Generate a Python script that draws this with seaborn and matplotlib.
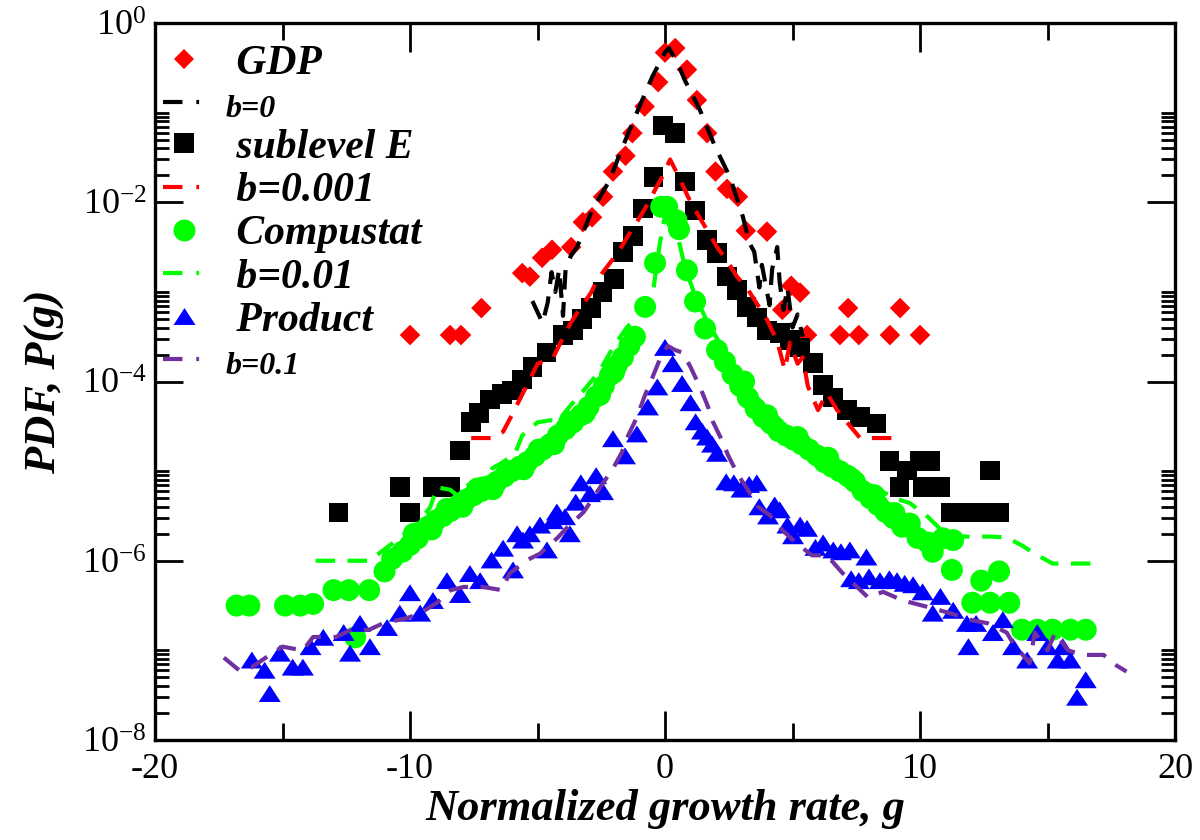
import math
import matplotlib
matplotlib.use("Agg")
import matplotlib.pyplot as plt
from matplotlib.lines import Line2D
from matplotlib.markers import MarkerStyle
from matplotlib.ticker import FixedLocator, NullFormatter, FuncFormatter
import seaborn as sns

# ---------------- data ----------------
# GDP growth-rate PDF
g_gdp = [-10.0, -8.43, -8.0, -7.2, -5.6, -5.3, -4.82, -4.43, -3.68, -3.22, -2.86, -2.43,
         -2.04, -1.55, -1.28, -0.8, -0.27, 0.0, 0.4, 0.86, 1.25, 1.65, 1.98, 2.43, 2.86,
         3.17, 4.0, 4.6, 4.95, 5.3, 5.57, 6.86, 7.18, 7.6, 8.82, 9.22, 10.0]
p_gdp = [3.3e-4, 3.3e-4, 3.3e-4, 6.6e-4, 1.62e-3, 1.48e-3, 2.4e-3, 2.95e-3, 3.16e-3, 6.0e-3,
         6.8e-3, 1.15e-2, 2.2e-2, 3.3e-2, 5.9e-2, 0.117, 0.219, 0.468, 0.525, 0.302, 0.138,
         5.9e-2, 2.2e-2, 1.41e-2, 1.15e-2, 4.8e-3, 4.7e-3, 6.3e-4, 1.17e-3, 9.8e-4, 3.3e-4,
         3.3e-4, 6.6e-4, 3.3e-4, 3.3e-4, 6.6e-4, 3.3e-4]

# model curve, b = 0
g_b0 = [-5.2, -4.8, -4.6, -4.45, -4.3, -4.15, -4.0, -3.9, -3.7, -3.45, -2.86, -2.16, -1.76,
        -1.06, -0.5, 0.0, 0.15, 0.5, 0.78, 1.37, 1.96, 2.55, 3.06, 3.3, 3.5, 3.7, 3.8, 4.1,
        4.2, 4.4, 4.5, 4.65, 4.8, 5.0, 5.2, 5.4]
p_b0 = [7.9e-4, 4.5e-4, 7.6e-4, 1.66e-3, 1.0e-3, 1.78e-3, 5.4e-4, 1.78e-3, 2.5e-3, 3.16e-3,
        8.1e-3, 1.78e-2, 3.55e-2, 0.107, 0.251, 0.468, 0.525, 0.355, 0.229, 0.107, 4.2e-2,
        1.9e-2, 6.8e-3, 3.55e-3, 2.8e-3, 1.12e-3, 2.0e-3, 7.1e-4, 1.78e-3, 3.16e-3, 1.26e-3,
        6.3e-4, 1.12e-3, 4.0e-4, 5.6e-4, 3.16e-4]

# sublevel E
g_sub = [-12.8, -10.4, -10.0, -9.1, -8.43, -8.04, -7.6, -7.3, -6.86, -6.4, -6.0, -5.6, -5.2,
         -4.65, -4.0, -3.6, -3.25, -2.9, -2.45, -2.0, -1.65, -1.25, -0.86, -0.45, -0.08,
         0.4, 0.78, 1.18, 1.65, 2.04, 2.43, 2.82, 3.2, 3.6, 4.0, 4.5, 4.9, 5.3, 5.8, 6.2,
         6.6, 7.14, 7.65, 8.3, 8.8, 9.2, 9.5, 10.0, 10.1, 10.4, 10.8, 11.2, 11.8, 12.35,
         12.75, 13.1]
p_sub = [3.47e-6, 6.6e-6, 3.47e-6, 6.6e-6, 6.6e-6, 1.7e-5, 3.55e-5, 4.47e-5, 6.3e-5, 7.2e-5,
         7.9e-5, 1.05e-4, 1.45e-4, 2.1e-4, 3.3e-4, 3.7e-4, 5.0e-4, 6.6e-4, 1.0e-3, 1.4e-3,
         2.8e-3, 4.2e-3, 8.5e-3, 1.9e-2, 7.2e-2,
         5.9e-2, 1.7e-2, 8.1e-3, 3.8e-3, 2.7e-3, 1.48e-3, 1.05e-3, 6.8e-4, 5.2e-4, 3.7e-4,
         3.5e-4, 2.9e-4, 2.4e-4, 1.6e-4, 9.1e-5, 6.6e-5, 4.8e-5, 4.0e-5, 3.4e-5, 1.3e-5,
         6.6e-6, 1.02e-5, 1.3e-5, 6.6e-6, 1.3e-5, 6.6e-6, 3.47e-6, 3.47e-6, 3.47e-6,
         1.02e-5, 3.47e-6]

# model curve, b = 0.001
g_b001 = [-7.6, -6.75, -6.35, -5.96, -5.7, -5.3, -5.0, -4.4, -4.1, -3.7, -3.45, -2.9, -2.67,
          -2.16, -1.84, -1.37, -1.06, -0.59, -0.39, -0.12, 0.2, 0.6, 0.9, 1.25, 1.65, 2.04,
          2.43, 2.82, 3.2, 3.6, 4.0, 4.4, 4.7, 4.9, 5.2, 5.4, 5.6, 6.0, 6.35, 6.75, 7.14,
          7.65, 9.1]
p_b001 = [2.34e-5, 2.34e-5, 2.75e-5, 4.47e-5, 6.3e-5, 1.05e-4, 1.58e-4, 1.82e-4, 2.7e-4,
          4.5e-4, 5.8e-4, 9.8e-4, 1.35e-3, 2.1e-3, 2.75e-3, 4.6e-3, 6.3e-3, 1.05e-2, 1.38e-2,
          1.9e-2, 3.0e-2, 1.78e-2, 1.15e-2, 7.6e-3, 4.9e-3, 3.16e-3, 2.24e-3, 1.48e-3,
          1.12e-3, 7.4e-4, 4.9e-4, 2.8e-4, 1.35e-4, 2.7e-4, 1.58e-4, 1.86e-4, 8.9e-5, 4.8e-5,
          7.4e-5, 4.8e-5, 3.5e-5, 2.34e-5, 2.34e-5]

# Compustat firms
g_comp = [-16.8, -16.3, -14.9, -14.3, -13.8, -13.0, -12.4, -12.15, -11.6, -11.0, -10.7,
          -10.3, -10.0, -9.85, -9.7, -9.3, -9.15, -9.0, -8.7, -8.55, -8.4, -8.1, -7.95, -7.8,
          -7.5, -7.35, -7.2, -6.9, -6.75, -6.6, -6.3, -6.15, -6.0, -5.7, -5.55, -5.4, -5.1,
          -4.95, -4.8, -4.5, -4.35, -4.2, -3.9, -3.75, -3.6, -3.3, -3.15, -3.0, -2.7, -2.55,
          -2.4, -2.16, -2.0, -1.9, -1.65, -1.4, -1.18, -0.78, -0.39, -0.15,
          0.08, 0.45, 0.55, 0.86, 1.18, 1.57, 2.04, 2.35, 2.65, 2.95, 3.1, 3.25, 3.55, 3.85,
          4.0, 4.15, 4.45, 4.75, 5.05, 5.2, 5.35, 5.65, 5.95, 6.25, 6.4, 6.55, 6.85, 7.15,
          7.3, 7.45, 7.75, 8.05, 8.2, 8.35, 8.65, 8.95, 9.0, 9.3, 9.6, 9.9, 10.3, 10.5, 10.9,
          11.3, 11.25, 12.05, 12.4, 12.75, 13.1, 13.5, 14.0, 14.6, 15.2, 15.9, 16.5]
p_comp = [3.16e-7, 3.16e-7, 3.16e-7, 3.16e-7, 3.3e-7, 4.7e-7, 4.7e-7, 1.4e-7, 4.7e-7, 7.6e-7,
          1.05e-6, 1.26e-6, 1.5e-6, 2.0e-6, 1.78e-6, 2.4e-6, 2.24e-6, 2.8e-6, 3.16e-6,
          3.8e-6, 3.6e-6, 4.2e-6, 4.0e-6, 4.8e-6, 5.4e-6, 6.3e-6, 6.0e-6, 6.8e-6, 6.3e-6,
          7.6e-6, 8.7e-6, 1.0e-5, 1.0e-5, 1.12e-5, 1.05e-5, 1.26e-5, 1.48e-5, 1.74e-5,
          1.74e-5, 2.0e-5, 2.0e-5, 2.5e-5, 2.95e-5, 3.55e-5, 3.5e-5, 4.2e-5, 4.4e-5, 5.2e-5,
          6.8e-5, 7.1e-5, 8.9e-5, 1.17e-4, 1.26e-4, 1.5e-4, 1.86e-4, 2.5e-4, 3.16e-4,
          6.8e-4, 2.1e-3, 8.9e-3,
          8.9e-3, 6.3e-3, 5.0e-3, 1.74e-3, 7.8e-4, 3.9e-4, 2.24e-4, 1.66e-4, 1.2e-4, 8.9e-5,
          1.0e-4, 6.6e-5, 5.0e-5, 4.0e-5, 4.2e-5, 3.4e-5, 2.8e-5, 2.5e-5, 2.24e-5, 2.4e-5,
          2.0e-5, 1.74e-5, 1.5e-5, 1.26e-5, 1.41e-5, 1.12e-5, 1.0e-5, 8.9e-6, 8.3e-6, 7.6e-6,
          6.0e-6, 5.0e-6, 5.4e-6, 4.2e-6, 3.5e-6, 3.0e-6, 3.4e-6, 2.4e-6, 2.6e-6, 1.8e-6,
          1.6e-6, 1.26e-6, 1.78e-6, 1.7e-6, 7.9e-7, 3.4e-7, 6.0e-7, 3.4e-7, 7.6e-7, 3.4e-7,
          1.7e-7, 1.7e-7, 1.7e-7, 1.7e-7, 1.7e-7]

# model curve, b = 0.01
g_b01 = [-13.7, -11.6, -10.9, -10.2, -9.6, -9.2, -8.94, -8.43, -8.16, -7.5, -6.94, -6.78,
         -6.35, -5.88, -5.6, -5.0, -4.5, -4.24, -3.8, -3.2, -2.6, -2.0, -1.5, -1.0, -0.47,
         -0.2, 0.1, 0.4, 0.8, 1.2, 1.6, 2.0, 2.5, 3.0, 3.5, 4.0, 5.0, 6.0, 7.0, 8.0, 9.0,
         9.6, 10.3, 10.7, 10.9, 11.5, 12.75, 13.4, 14.0, 14.5, 15.2, 16.75]
p_b01 = [1.0e-6, 1.0e-6, 1.41e-6, 2.0e-6, 2.8e-6, 4.0e-6, 6.6e-6, 6.2e-6, 5.4e-6, 7.9e-6,
         8.5e-6, 1.07e-5, 1.26e-5, 1.58e-5, 2.5e-5, 3.5e-5, 3.7e-5, 3.5e-5, 5.0e-5, 7.9e-5,
         1.26e-4, 2.5e-4, 4.0e-4, 5.6e-4, 1.0e-3, 3.5e-3, 1.0e-2, 5.6e-3, 1.78e-3, 8.9e-4,
         5.0e-4, 3.16e-4, 1.78e-4, 1.12e-4, 7.1e-5, 5.0e-5, 2.8e-5, 1.78e-5, 1.12e-5,
         7.1e-6, 5.0e-6, 4.4e-6, 3.1e-6, 2.4e-6, 2.04e-6, 1.86e-6, 1.86e-6, 1.82e-6,
         1.48e-6, 1.2e-6, 9.3e-7, 9.3e-7]

# product level
g_prod = [-16.2, -15.7, -15.5, -15.1, -14.6, -14.2, -13.9, -13.4, -12.6, -12.35, -11.96,
          -11.57, -10.9, -10.4, -10.0, -9.6, -9.1, -8.55, -8.04, -7.65, -7.25, -6.8, -6.35,
          -5.96, -5.8, -5.57, -5.3, -4.9, -4.63, -4.4, -4.24, -3.92, -3.73, -3.5, -3.3,
          -2.94, -2.7, -2.43, -2.04, -1.57, -1.1, -0.67, -0.3, 0.0,
          0.3, 0.67, 1.0, 1.2, 1.45, 1.65, 1.85, 2.04, 2.4, 2.7, 3.0, 3.3, 3.6, 3.7, 4.04,
          4.3, 4.5, 4.8, 5.02, 5.3, 5.57, 5.9, 6.2, 6.6, 6.9, 7.25, 7.3, 7.6, 7.9, 8.0,
          8.43, 8.8, 9.1, 9.4, 9.73, 10.1, 10.5, 10.8, 11.3, 11.84, 11.9, 12.2, 12.86,
          13.25, 13.65, 14.2, 14.6, 15.0, 15.4, 15.6, 15.9, 16.16, 16.5]
p_prod = [7.8e-8, 6.0e-8, 3.3e-8, 9.3e-8, 6.5e-8, 6.5e-8, 1.1e-7, 1.4e-7, 1.58e-7, 9.3e-8,
          2.0e-7, 1.1e-7, 1.8e-7, 2.6e-7, 4.4e-7, 2.6e-7, 3.6e-7, 6.0e-7, 4.2e-7, 7.2e-7,
          6.0e-7, 1.02e-6, 1.38e-6, 7.9e-7, 2.0e-6, 1.7e-6, 2.0e-6, 2.5e-6, 1.32e-6, 2.8e-6,
          3.5e-6, 3.1e-6, 2.0e-6, 4.5e-6, 7.4e-6, 5.6e-6, 8.9e-6, 5.9e-6, 2.3e-5, 1.48e-5,
          2.6e-5, 5.2e-5, 8.7e-5, 2.4e-4,
          1.58e-4, 9.5e-5, 5.8e-5, 3.55e-5, 2.8e-5, 2.4e-5, 2.0e-5, 1.58e-5, 7.6e-6, 7.4e-6,
          6.3e-6, 7.1e-6, 7.4e-6, 4.0e-6, 3.16e-6, 4.2e-6, 3.7e-6, 2.5e-6, 1.9e-6, 2.5e-6,
          2.3e-6, 1.41e-6, 1.58e-6, 1.32e-6, 1.26e-6, 1.32e-6, 6.3e-7, 6.0e-7, 1.1e-6,
          6.6e-7, 6.0e-7, 6.3e-7, 6.0e-7, 5.6e-7, 5.4e-7, 4.5e-7, 2.6e-7, 4.0e-7, 2.8e-7,
          2.0e-7, 1.1e-7, 2.0e-7, 1.58e-7, 2.2e-7, 1.1e-7, 7.8e-8, 1.58e-7, 1.1e-7, 7.8e-8,
          1.1e-7, 7.8e-8, 3.0e-8, 4.7e-8]

# model curve, b = 0.1
g_b1 = [-17.3, -16.7, -16.2, -15.4, -15.0, -14.2, -13.8, -12.9, -12.3, -11.6, -11.06, -10.1,
        -9.6, -8.94, -8.4, -7.9, -7.14, -6.4, -6.1, -5.4, -4.9, -4.2, -3.84, -3.2, -2.86,
        -2.43, -2.08, -1.69, -1.49, -1.1, -0.78, -0.59, -0.2, 0.1, 0.4, 0.7, 1.0, 1.37,
        1.69, 1.88, 2.27, 2.47, 2.86, 3.2, 3.65, 4.1, 4.6, 5.1, 5.76, 6.35, 6.94, 7.33,
        7.96, 8.55, 9.33, 10.4, 11.18, 11.96, 12.67, 13.4, 13.65, 14.3, 14.5, 15.0, 15.3,
        15.8, 16.4, 17.2, 17.7, 18.1]
p_b1 = [8.3e-8, 6.0e-8, 6.5e-8, 9.3e-8, 1.1e-7, 1.0e-7, 1.41e-7, 1.41e-7, 1.7e-7, 1.7e-7,
        2.0e-7, 2.3e-7, 2.6e-7, 3.4e-7, 4.7e-7, 5.1e-7, 5.1e-7, 4.7e-7, 7.2e-7, 1.02e-6,
        1.2e-6, 1.82e-6, 2.34e-6, 3.47e-6, 4.8e-6, 7.4e-6, 1.02e-5, 1.62e-5, 2.34e-5,
        4.0e-5, 7.1e-5, 9.5e-5, 1.78e-4, 2.5e-4, 2.24e-4, 2.1e-4, 1.45e-4, 8.7e-5, 5.2e-5,
        3.55e-5, 2.1e-5, 1.51e-5, 9.1e-6, 6.5e-6, 4.0e-6, 3.24e-6, 2.2e-6, 1.62e-6,
        1.15e-6, 1.15e-6, 7.4e-7, 5.8e-7, 3.9e-7, 4.5e-7, 3.6e-7, 3.0e-7, 2.6e-7, 2.2e-7,
        2.0e-7, 1.58e-7, 1.2e-7, 7.2e-8, 1.58e-7, 1.0e-7, 1.58e-7, 1.0e-7, 8.9e-8, 8.9e-8,
        6.8e-8, 5.8e-8]

x_major = [-20, -10, 0, 10, 20]
x_minor = [-15, -5, 5, 15]
y_major = [1e-8, 1e-6, 1e-4, 1e-2, 1e0]

# ---------------- style ----------------
sns.set_theme(style="ticks")
plt.rcParams.update({
    "font.family": ["Liberation Serif", "DejaVu Serif"],
    "mathtext.fontset": "custom",
    "mathtext.rm": "Liberation Serif",
    "mathtext.it": "Liberation Serif:italic",
    "mathtext.bf": "Liberation Serif:bold",
    "axes.unicode_minus": False,
    "lines.scale_dashes": False,
    "axes.edgecolor": "black",
    "axes.labelcolor": "black",
    "text.color": "black",
    "xtick.color": "black",
    "ytick.color": "black",
    "axes.linewidth": 2.4,
})

RED, BLACK, GREEN, BLUE, PURPLE = "#ff0000", "#000000", "#00ff00", "#0000ff", "#7030a0"
CURVE_DASH = (14, 9)
LEGEND_DASH = (14, 10, 2, 10)
LW = 3.0

fig = plt.figure(figsize=(12, 8.4), dpi=100, facecolor="white")
ax = fig.add_axes([155 / 1200, 1 - 740 / 840, 1020 / 1200, 717 / 840])
ax.set_facecolor("white")
ax.set_yscale("log")

tri = MarkerStyle([(0.0, 0.77), (-1.0, -0.77), (1.0, -0.77)])

series = [
    ("scatter", g_gdp, p_gdp, RED, "D", 110, " GDP"),
    ("line", g_b0, p_b0, BLACK, None, None, "b=0"),
    ("scatter", g_sub, p_sub, BLACK, "s", 200, " sublevel E"),
    ("line", g_b001, p_b001, RED, None, None, " b=0.001"),
    ("scatter", g_comp, p_comp, GREEN, "o", 250, " Compustat"),
    ("line", g_b01, p_b01, GREEN, None, None, " b=0.01"),
    ("scatter", g_prod, p_prod, BLUE, tri, 250, " Product"),
    ("line", g_b1, p_b1, PURPLE, None, None, "b=0.1"),
]

handles, labels = [], []
for z, (kind, gx, py, col, mk, size, lab) in enumerate(series):
    if kind == "scatter":
        sns.scatterplot(x=gx, y=py, ax=ax, color=col, marker=mk, s=size,
                        edgecolor="none", linewidth=0, legend=False, zorder=3 + z)
        handles.append(Line2D([], [], linestyle="none", marker=mk, color=col,
                              markersize=size ** 0.5, markeredgewidth=0))
    else:
        sns.lineplot(x=gx, y=py, ax=ax, color=col, lw=LW, sort=False, estimator=None,
                     legend=False, zorder=3 + z)
        ax.lines[-1].set_dashes(CURVE_DASH)
        handles.append(Line2D([], [], color=col, lw=LW, dashes=LEGEND_DASH))
    labels.append(lab)

# ---------------- axes ----------------
ax.set_xlim(-20, 20)
ax.set_ylim(1e-8, 1e0)
ax.xaxis.set_major_locator(FixedLocator(x_major))
ax.xaxis.set_minor_locator(FixedLocator(x_minor))
ax.yaxis.set_major_locator(FixedLocator(y_major))
y_minor = [k * 10.0 ** e for e in (-8, -6, -4, -2) for k in range(2, 11)]
ax.yaxis.set_minor_locator(FixedLocator(y_minor))
ax.yaxis.set_minor_formatter(NullFormatter())
ax.yaxis.set_major_formatter(
    FuncFormatter(lambda v, _: r"$\mathregular{10^{%d}}$" % round(math.log10(v))))
ax.xaxis.set_major_formatter(FuncFormatter(lambda v, _: "%d" % v))

ax.tick_params(which="both", direction="in", top=True, right=True, color="black",
               width=2.0, labelsize=26, labelcolor="black")
ax.tick_params(axis="x", which="major", length=21, pad=9)
ax.tick_params(axis="x", which="minor", length=12)
ax.tick_params(axis="y", which="major", length=20, pad=6)
ax.tick_params(axis="y", which="minor", length=10)
for s in ax.spines.values():
    s.set_visible(True)
    s.set_color("black")
    s.set_linewidth(2.4)
ax.grid(False)

label_font = dict(family="Liberation Serif", weight="bold", style="italic", size=32,
                  color="black")
ax.set_xlabel("Normalized growth rate, g", fontdict=label_font)
ax.set_ylabel("PDF, P(g)", fontdict=label_font)
ax.xaxis.set_label_coords(0.5, -0.068)
ax.yaxis.set_label_coords(-0.088, 0.5)

leg = ax.legend(handles, labels, loc="upper left", bbox_to_anchor=(0.008, 0.97),
                frameon=False, borderaxespad=0, borderpad=0, handlelength=1.0,
                handletextpad=0.5, labelspacing=0.12,
                prop=dict(family="Liberation Serif", weight="bold", style="italic", size=30))
for t in leg.get_texts():
    t.set_color("black")
    if t.get_text() in ("b=0", "b=0.1"):
        t.set_fontsize(23)

fig.savefig("out.png", dpi=100, facecolor="white")
